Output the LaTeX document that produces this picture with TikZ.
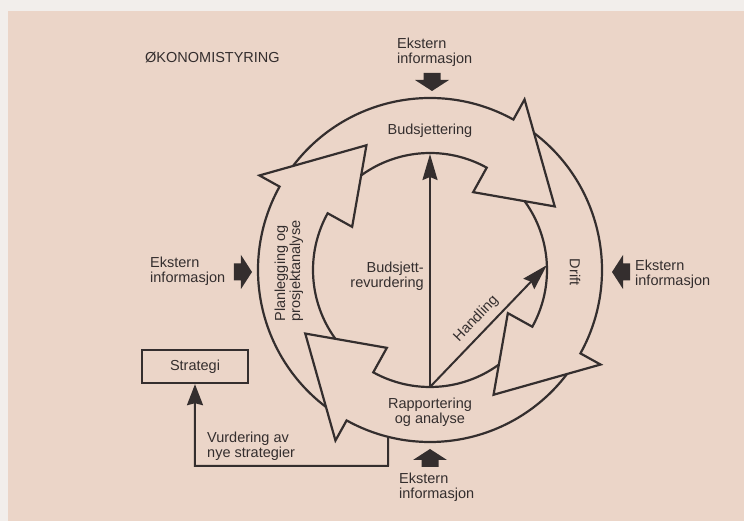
\documentclass[tikz,border=0pt]{standalone}
\usepackage{fontspec}
\setmainfont{Liberation Sans}
\usetikzlibrary{arrows.meta}
\definecolor{paper}{RGB}{235,213,200}
\definecolor{margin}{RGB}{242,238,235}
\definecolor{ink}{RGB}{52,46,46}

\begin{document}
\begin{tikzpicture}[x = 1pt, y = 1pt,
    every node/.style = { text = ink, font = \fontsize{14.5}{15}\selectfont, inner sep = 0pt },
    ring/.style = { draw = ink, line width = 2.2pt },
    inner arrow/.style = { draw = ink, line width = 2pt, -{Stealth[length=26pt, width=15pt, inset=3pt]} },
    info/.style = { align = left, anchor = west },
    inarrow/.pic = { \fill[ink] (-9,-8.5) -- (-2,-8.5) -- (-2,-17) -- (9,0) -- (-2,17) -- (-2,8.5) -- (-9,8.5) -- cycle; }
  ]
  % page
  \fill[margin] (-430,-251) rectangle (314,270);
  \fill[paper] (-422,-251) rectangle (314,259);

  % the cycle
  \foreach \t in {61,-29,-119,151}
    \draw[ring] (\t+81.96:172) arc[start angle=\t+81.96, end angle=\t, radius=172]
      -- (\t:195) -- (\t-34:140) -- (\t:89) -- (\t:117)
      arc[start angle=\t, end angle=\t+64.77, radius=117];

  \node[anchor = west] (title) at (-285,212) {ØKONOMISTYRING};
  \node[anchor = base] (budsj) at (0,135) {Budsjettering};
  \node[rotate = -90] (drift) at (145,-2) {Drift};
  \node[rotate = 90, align = left] (planl) at (-141,-1) {Planlegging og\\prosjektanalyse};
  \node[align = right, anchor = east] (revurd) at (-6,-6) {Budsjett-\\revurdering};
  \node[align = center] (rapport) at (0,-142) {Rapportering\\og analyse};

  % inside
  \coordinate (bot) at (-90:117);
  \coordinate (top) at (90:116);
  \coordinate (rgt) at (2.4:117);
  \draw[inner arrow] (bot) -- (top);
  \draw[inner arrow] (bot) -- node[sloped, above = 6pt, pos = 0.48] (handling) {Handling} (rgt);

  % external information
  \node[info] (eksT) at (-33,218) {Ekstern\\informasjon};
  \node[info] (eksL) at (-280,-1) {Ekstern\\informasjon};
  \node[info] (eksR) at (205,-4) {Ekstern\\informasjon};
  \node[info] (eksB) at (-31,-217) {Ekstern\\informasjon};
  \pic[rotate = -90] (inT) at (2,188) {inarrow};
  \pic (inL) at (-187,-2) {inarrow};
  \pic[rotate = 180] (inR) at (191,-2) {inarrow};
  \pic[rotate = 90] (inB) at (0,-188) {inarrow};

  % strategy
  \node[draw = ink, line width = 2.4pt, minimum width = 106pt, minimum height = 33pt] (strategi) at (-235,-96.5) {Strategi};
  \node[info] (vurd) at (-223,-176) {Vurdering av\\nye strategier};
  \coordinate (fbtop) at (-104.1:172);
  \coordinate (fbcorner) at (-42,-196);
  \draw[ink, line width = 2pt, -{Stealth[length=21pt, width=16pt, inset=2pt]}] (fbtop) -- (fbcorner) -| (strategi);
\end{tikzpicture}
\end{document}
